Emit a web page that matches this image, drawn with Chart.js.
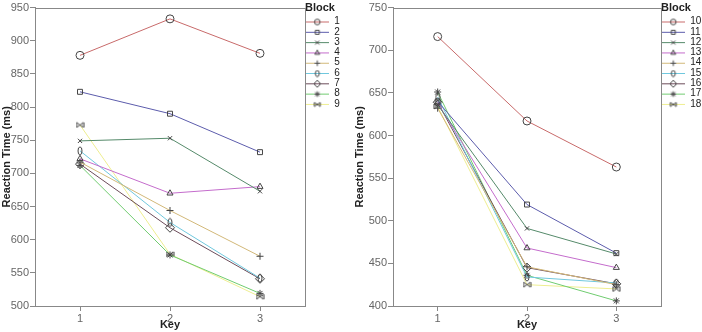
<!DOCTYPE html>
<html>
<head>
<meta charset="utf-8">
<script src="https://cdn.jsdelivr.net/npm/chart.js@4.4.0/dist/chart.umd.min.js"></script>
<style>
  body { margin: 0; background: #fff; }
  #wrap { position: relative; width: 702px; height: 332px; }
  .box { position: absolute; top: 0; width: 351px; height: 332px; }
</style>
</head>
<body>
<div id="wrap">
  <div class="box" style="left:0"><canvas id="left" width="351" height="332"></canvas></div>
  <div class="box" style="left:351px"><canvas id="right" width="351" height="332"></canvas></div>
</div>
<script>
// x categories
const keys = ['1', '2', '3'];

// mean reaction time (ms) per block, keys 1..3
const rtBlock1 = [878, 933, 881];
const rtBlock2 = [823, 790, 732];
const rtBlock3 = [749, 753, 673];
const rtBlock4 = [722, 670, 680];
const rtBlock5 = [717, 644, 575];
const rtBlock6 = [734, 626, 542];
const rtBlock7 = [714, 618, 541];
const rtBlock8 = [712, 577, 519];
const rtBlock9 = [773, 578, 514];

const rtBlock10 = [716, 617, 563];
const rtBlock11 = [640, 519, 462];
const rtBlock12 = [636, 491, 461];
const rtBlock13 = [638, 468, 445];
const rtBlock14 = [632, 446, 425];
const rtBlock15 = [645, 434, 427];
const rtBlock16 = [639, 445, 426];
const rtBlock17 = [651, 436, 406];
const rtBlock18 = [634, 425, 420];

const leftBlocks = ['1', '2', '3', '4', '5', '6', '7', '8', '9'];
const rightBlocks = ['10', '11', '12', '13', '14', '15', '16', '17', '18'];
const leftSeries = [rtBlock1, rtBlock2, rtBlock3, rtBlock4, rtBlock5, rtBlock6, rtBlock7, rtBlock8, rtBlock9];
const rightSeries = [rtBlock10, rtBlock11, rtBlock12, rtBlock13, rtBlock14, rtBlock15, rtBlock16, rtBlock17, rtBlock18];

// y axis ranges
const leftRange = [500, 950];
const rightRange = [400, 750];

Chart.defaults.font.family = "'Liberation Sans', Arial, sans-serif";
Chart.defaults.animation = false;

const lineColors = ['#c86a6a', '#5c5cac', '#558a6a', '#c46ccc', '#d2b878', '#70c8de', '#6c4c5a', '#70cc70', '#eeee90'];
const markerColor = '#444';

// small canvases for the two markers chart.js does not have
function zeroMark(h) {
  const c = document.createElement('canvas');
  c.width = 6; c.height = h + 2;
  const g = c.getContext('2d');
  g.strokeStyle = markerColor; g.lineWidth = 1;
  g.beginPath(); g.ellipse(3, (h + 2) / 2, 2, h / 2, 0, 0, Math.PI * 2); g.stroke();
  return c;
}
function bowtieMark(w, h) {
  const c = document.createElement('canvas');
  c.width = w + 2; c.height = h + 2;
  const g = c.getContext('2d');
  g.strokeStyle = markerColor; g.lineWidth = 1;
  g.beginPath(); g.moveTo(1, 1); g.lineTo(w + 1, h + 1); g.lineTo(w + 1, 1); g.lineTo(1, h + 1); g.closePath(); g.stroke();
  return c;
}
const markers = ['circle', 'rect', 'crossRot', 'triangle', 'cross', zeroMark(8), 'rectRot', 'star', bowtieMark(7, 5)];
const legendMarkers = ['circle', 'rect', 'crossRot', 'triangle', 'cross', zeroMark(6), 'rectRot', 'star', bowtieMark(6, 4)];
const radii = [4, 3.5, 3, 3.5, 3.5, 0, 4.5, 3.5, 0];

function legendIcon(i) {
  const c = document.createElement('canvas');
  c.width = 24; c.height = 10;
  const g = c.getContext('2d');
  g.strokeStyle = lineColors[i]; g.lineWidth = 1;
  g.beginPath(); g.moveTo(0, 5.5); g.lineTo(24, 5.5); g.stroke();
  g.strokeStyle = markerColor; g.fillStyle = 'rgba(0,0,0,0)';
  Chart.helpers.drawPoint(g, {pointStyle: legendMarkers[i], radius: i === 6 ? 3.5 : 2.8, rotation: 0, borderWidth: 1}, 12, 5.5);
  return c;
}
const icons = markers.map((m, i) => legendIcon(i));

function framePlugin(legendWidth) {
  return {
    id: 'frame',
    afterInit(chart) {
      const lg = chart.legend;
      const fit = lg.fit;
      lg.fit = function () { fit.call(this); this.width = legendWidth; };
    },
    afterDraw(chart) {
      const a = chart.chartArea, ctx = chart.ctx;
      ctx.save();
      ctx.strokeStyle = '#888';
      ctx.lineWidth = 1;
      ctx.strokeRect(Math.round(a.left) + 0.5, Math.round(a.top) + 0.5, Math.round(a.right - a.left), Math.round(a.bottom - a.top));
      ctx.restore();
    }
  };
}

function makeChart(id, blocks, series, range, yWidth, padLeft, legendWidth) {
  const datasets = series.map((vals, i) => ({
    label: blocks[i],
    data: vals,
    borderColor: lineColors[i],
    borderWidth: 1,
    pointStyle: markers[i],
    pointRadius: radii[i] || 4,
    pointBorderColor: markerColor,
    pointBackgroundColor: 'rgba(0,0,0,0)',
    pointBorderWidth: 1,
    tension: 0,
    fill: false
  }));
  new Chart(document.getElementById(id), {
    type: 'line',
    data: {labels: keys, datasets: datasets},
    options: {
      responsive: false,
      layout: {padding: {left: padLeft, top: -2, right: 0, bottom: 0}},
      plugins: {
        tooltip: {enabled: false},
        legend: {
          position: 'right',
          align: 'start',
          title: {display: true, text: 'Block', position: 'start', color: '#222',
                  font: {size: 11, weight: 'bold'}, padding: {top: 4, bottom: 1}},
          labels: {
            usePointStyle: true,
            pointStyleWidth: 24,
            padding: 0.3,
            color: '#555',
            font: {size: 10},
            generateLabels: chart => chart.data.datasets.map((ds, i) => ({
              text: ds.label, pointStyle: icons[i], fillStyle: 'rgba(0,0,0,0)',
              strokeStyle: 'rgba(0,0,0,0)', lineWidth: 0, hidden: false, datasetIndex: i
            }))
          }
        }
      },
      scales: {
        x: {
          type: 'category',
          offset: true,
          grid: {drawOnChartArea: false, offset: false, tickLength: 5, color: '#888'},
          border: {color: '#888'},
          ticks: {color: '#666', font: {size: 11}, padding: 1},
          title: {display: true, text: 'Key', color: '#222', font: {size: 11, weight: 'bold'}, padding: 0},
          afterFit: s => { s.height = 26; }
        },
        y: {
          min: range[0], max: range[1],
          grid: {drawOnChartArea: false, tickLength: 5, color: '#888'},
          border: {color: '#888'},
          ticks: {stepSize: 50, color: '#666', font: {size: 11}, padding: 1},
          title: {display: true, text: 'Reaction Time (ms)', color: '#222', font: {size: 11, weight: 'bold'}, padding: 0},
          afterFit: s => { s.width = yWidth; }
        }
      }
    },
    plugins: [framePlugin(legendWidth)]
  });
}

makeChart('left', leftBlocks, leftSeries, leftRange, 35, 0, 46);
makeChart('right', rightBlocks, rightSeries, rightRange, 40, 2, 41);
</script>
</body>
</html>
